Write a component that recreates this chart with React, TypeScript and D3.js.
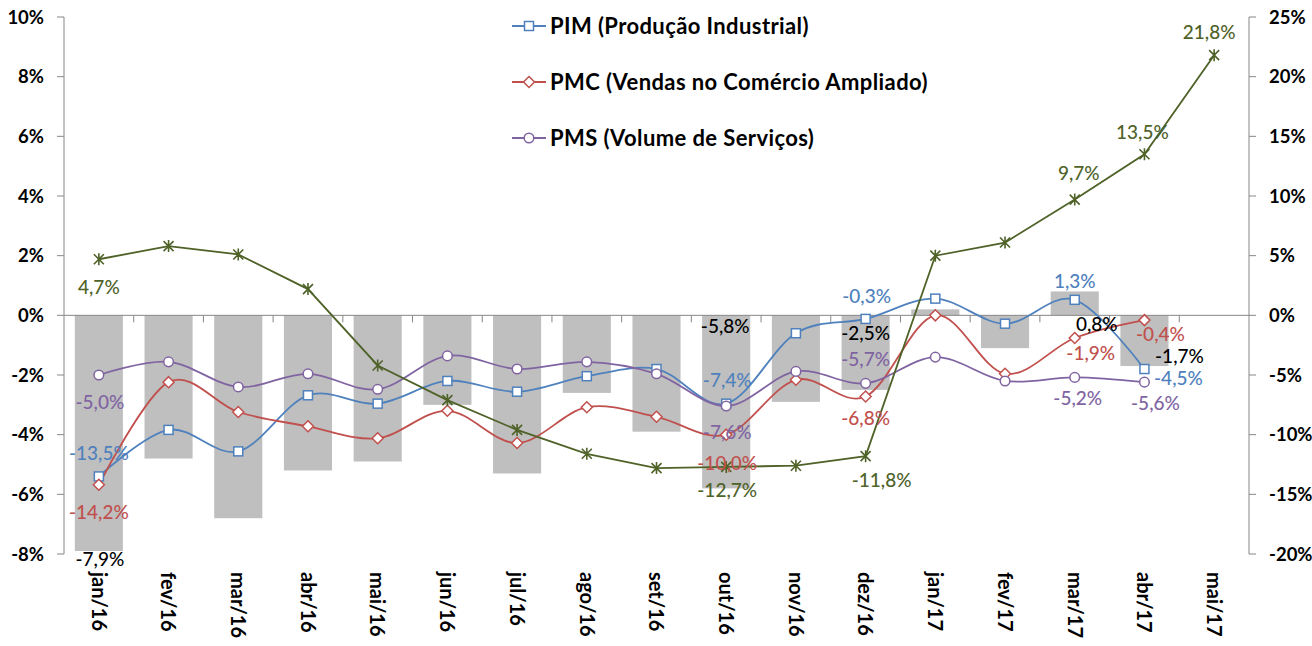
import * as d3 from 'd3';

const categories = ['jan/16', 'fev/16', 'mar/16', 'abr/16', 'mai/16', 'jun/16', 'jul/16', 'ago/16', 'set/16', 'out/16', 'nov/16', 'dez/16', 'jan/17', 'fev/17', 'mar/17', 'abr/17', 'mai/17'];

// gray bars, left axis
const barValues = [-7.9, -4.8, -6.8, -5.2, -4.9, -3.0, -5.3, -2.6, -3.9, -5.8, -2.9, -2.5, 0.2, -1.1, 0.8, -1.7, null];
// lines, right axis
const pimValues = [-13.5, -9.6, -11.4, -6.7, -7.4, -5.5, -6.4, -5.1, -4.5, -7.4, -1.5, -0.3, 1.4, -0.7, 1.3, -4.5, null];
const pmcValues = [-14.2, -5.6, -8.1, -9.3, -10.3, -8.0, -10.7, -7.7, -8.5, -10.0, -5.4, -6.8, 0.0, -4.9, -1.9, -0.4, null];
const pmsValues = [-5.0, -3.9, -6.0, -4.9, -6.2, -3.4, -4.5, -3.9, -4.9, -7.6, -4.7, -5.7, -3.5, -5.5, -5.2, -5.6, null];
const greenValues = [4.7, 5.8, 5.1, 2.2, -4.2, -7.1, -9.6, -11.6, -12.8, -12.7, -12.6, -11.8, 5.0, 6.1, 9.7, 13.5, 21.8];

const leftTicks = [10, 8, 6, 4, 2, 0, -2, -4, -6, -8];
const rightTicks = [25, 20, 15, 10, 5, 0, -5, -10, -15, -20];
const legendNames = ['PIM (Produção Industrial)', 'PMC (Vendas no Comércio Ampliado)', 'PMS (Volume de Serviços)'];

const W = 1312, H = 646;
const left = 64, right = 1249, top = 17, bottom = 554;
const FONT = 'Lato, "Open Sans", sans-serif';

const fmt = (v: number) => v.toFixed(1).replace('.', ',') + '%';

// label offsets per index [dx, dy]
const barLabelPos: Record<number, number[]> = { 0: [1, 8], 9: [-1, -162], 11: [0, -57], 14: [22, 33], 15: [35, -10] };
const pimLabelPos: Record<number, number[]> = { 0: [0, -23], 9: [1, -23], 11: [1, -23], 14: [0, -19], 15: [34, 9] };
const pmcLabelPos: Record<number, number[]> = { 0: [0, 27], 9: [1, 28], 11: [0, 22], 14: [16, 15], 15: [16, 14] };
const pmsLabelPos: Record<number, number[]> = { 0: [1, 27], 9: [1, 26], 11: [0, -24], 14: [3, 21], 15: [11, 21] };
const greenLabelPos: Record<number, number[]> = { 0: [0, 28], 9: [1, 23], 11: [16, 24], 14: [4, -26], 15: [-2, -22], 16: [-5, -23] };

const BLUE = '#4F81BD', RED = '#C0504D', PURPLE = '#8064A2', GREEN = '#4F6228', GRAY = '#BFBFBF', AXIS = '#868686';

function Marker({ kind, x, y, color }: { kind: string; x: number; y: number; color: string }) {
  if (kind === 'square') return <rect x={x - 4.5} y={y - 4.5} width={9} height={9} fill="white" stroke={color} strokeWidth={1.5} />;
  if (kind === 'diamond') return <path d={`M${x},${y - 5.5}L${x + 5.5},${y}L${x},${y + 5.5}L${x - 5.5},${y}Z`} fill="white" stroke={color} strokeWidth={1.5} />;
  if (kind === 'circle') return <circle cx={x} cy={y} r={4.8} fill="white" stroke={color} strokeWidth={1.5} />;
  return <path d={`M${x - 5},${y - 5}L${x + 5},${y + 5}M${x - 5},${y + 5}L${x + 5},${y - 5}M${x},${y - 6}L${x},${y + 6}`} stroke={color} strokeWidth={1.6} fill="none" />;
}

export default function App() {
  const x = d3.scaleBand().domain(categories).range([left, right]).paddingInner(0.31).paddingOuter(0.155);
  const step = x.step();
  const cx = (i: number) => (x(categories[i]) as number) + x.bandwidth() / 2;
  const yL = d3.scaleLinear().domain([-8, 10]).range([bottom, top]);
  const yR = d3.scaleLinear().domain([-20, 25]).range([bottom, top]);

  const smooth = d3.line<number | null>()
    .defined(d => d !== null)
    .x((_, i) => cx(i))
    .y(d => yR(d as number))
    .curve(d3.curveCardinal.tension(0));
  const straight = d3.line<number | null>()
    .defined(d => d !== null)
    .x((_, i) => cx(i))
    .y(d => yR(d as number));

  const series = [
    { values: pimValues, color: BLUE, kind: 'square', pos: pimLabelPos },
    { values: pmcValues, color: RED, kind: 'diamond', pos: pmcLabelPos },
    { values: pmsValues, color: PURPLE, kind: 'circle', pos: pmsLabelPos },
  ];

  return (
    <svg width={W} height={H} style={{ position: 'absolute', left: 0, top: 0, background: 'white' }} fontFamily={FONT}>
      {/* bars */}
      {barValues.map((v, i) => v === null ? null : (
        <rect key={'b' + i} x={x(categories[i])} y={yL(Math.max(0, v))} width={x.bandwidth()} height={Math.abs(yL(v) - yL(0))} fill={GRAY} />
      ))}

      {/* axes */}
      <line x1={left} x2={left} y1={top} y2={bottom} stroke={AXIS} />
      <line x1={right} x2={right} y1={top} y2={bottom} stroke={AXIS} />
      <line x1={left} x2={right} y1={yL(0)} y2={yL(0)} stroke={AXIS} />
      {d3.range(1, categories.length).map(i => (
        <line key={'xt' + i} x1={left + i * step} x2={left + i * step} y1={yL(0)} y2={yL(0) + 7} stroke={AXIS} />
      ))}
      {leftTicks.map(t => (
        <g key={'lt' + t}>
          <line x1={left - 7} x2={left} y1={yL(t)} y2={yL(t)} stroke={AXIS} />
          <text x={44} y={yL(t)} dy="0.36em" textAnchor="end" fontSize={18.5} fontWeight="bold" fill="#000">{t + '%'}</text>
        </g>
      ))}
      {rightTicks.map(t => (
        <g key={'rt' + t}>
          <line x1={right} x2={right + 7} y1={yR(t)} y2={yR(t)} stroke={AXIS} />
          <text x={1269} y={yR(t)} dy="0.36em" textAnchor="start" fontSize={18.5} fontWeight="bold" fill="#000">{t + '%'}</text>
        </g>
      ))}
      {categories.map((c, i) => (
        <text key={'xl' + c} transform={`translate(${cx(i)},572) rotate(90)`} dy="0.36em" fontSize={20} fontWeight="bold" fill="#000">{c}</text>
      ))}

      {/* lines */}
      {series.map(s => (
        <path key={s.color} d={smooth(s.values) || ''} fill="none" stroke={s.color} strokeWidth={1.8} />
      ))}
      <path d={straight(greenValues) || ''} fill="none" stroke={GREEN} strokeWidth={1.8} />
      {series.map(s => s.values.map((v, i) => v === null ? null : (
        <Marker key={s.color + i} kind={s.kind} x={cx(i)} y={yR(v)} color={s.color} />
      )))}
      {greenValues.map((v, i) => <Marker key={'g' + i} kind="star" x={cx(i)} y={yR(v)} color={GREEN} />)}

      {/* data labels */}
      {Object.entries(barLabelPos).map(([k, [dx, dy]]) => {
        const i = +k; const v = barValues[i] as number;
        return <text key={'bl' + i} x={cx(i) + dx} y={yL(v) + dy} dy="0.36em" textAnchor="middle" fontSize={19} fontWeight={500} fill="#000">{fmt(v)}</text>;
      })}
      {series.map(s => Object.entries(s.pos).map(([k, [dx, dy]]) => {
        const i = +k; const v = s.values[i] as number;
        return <text key={s.color + 'l' + i} x={cx(i) + dx} y={yR(v) + dy} dy="0.36em" textAnchor="middle" fontSize={19} fontWeight={500} fill={s.color}>{fmt(v)}</text>;
      }))}
      {Object.entries(greenLabelPos).map(([k, [dx, dy]]) => {
        const i = +k; const v = greenValues[i];
        return <text key={'gl' + i} x={cx(i) + dx} y={yR(v) + dy} dy="0.36em" textAnchor="middle" fontSize={19} fontWeight={500} fill={GREEN}>{fmt(v)}</text>;
      })}

      {/* legend */}
      {series.map((s, i) => {
        const ly = 26 + i * 56;
        return (
          <g key={'lg' + i}>
            <line x1={512} x2={546} y1={ly} y2={ly} stroke={s.color} strokeWidth={1.8} />
            <Marker kind={s.kind} x={529} y={ly} color={s.color} />
            <text x={550} y={ly} dy="0.36em" fontSize={22} fontWeight="bold" fill="#000" letterSpacing={0.4}>{legendNames[i]}</text>
          </g>
        );
      })}
    </svg>
  );
}
